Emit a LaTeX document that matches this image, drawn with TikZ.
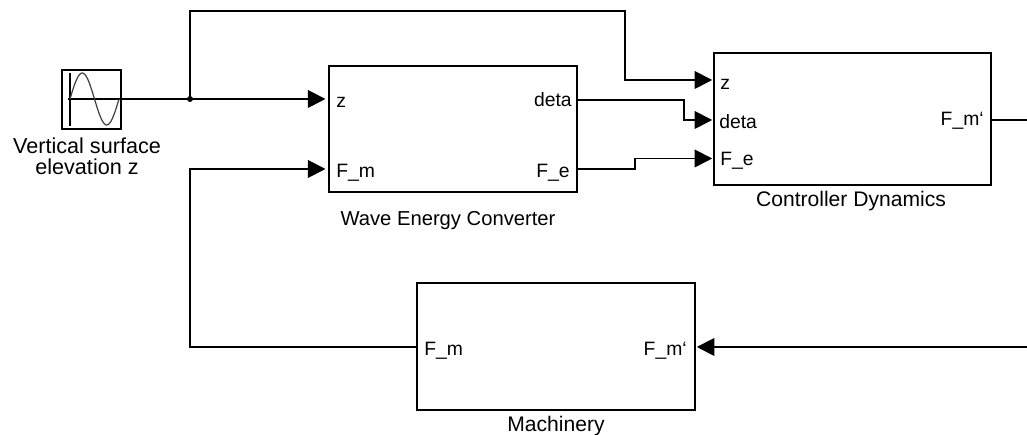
\documentclass[tikz,border=0pt]{standalone}
\usepackage{fontspec}
\setmainfont{Liberation Sans}
\usepackage{xcolor}
\usetikzlibrary{arrows.meta}
\tikzset{
	block/.style={draw, line width=1.1pt, inner sep=0pt, outer sep=0pt},
	signal/.style={line width=1.1pt, -{Triangle[length=10pt,width=10pt]}, shorten >=2pt},
	tosmall/.style={shorten >=1pt},
	wire/.style={line width=1.1pt},
	port/.style={inner sep=0pt, font=\fontsize{11}{12}\selectfont},
	title/.style={inner sep=0pt, align=center, font=\fontsize{12}{12}\selectfont}
}
\begin{document}
\begin{tikzpicture}
	\useasboundingbox (0,0) rectangle (20.54,8.7);
	\node[block, minimum width=1.18cm, minimum height=1.18cm] (source) at (1.83,6.71) {};
	\node[block, minimum width=4.96cm, minimum height=2.52cm] (wec) at (9.06,6.12) {};
	\node[block, minimum width=5.54cm, minimum height=2.64cm] (ctrl) at (17.05,6.32) {};
	\node[block, minimum width=5.56cm, minimum height=2.54cm] (mach) at (11.12,1.77) {};
	% sine icon
	\draw[line width=0.9pt] (1.40,7.24) -- (1.40,6.18);
	\draw[line width=0.6pt] (1.36,6.72) -- (2.42,6.72);
	\draw[line width=0.7pt, smooth, domain=0:360, samples=37, color=black!75] plot ({1.40+\x/360*0.98},{6.72+0.52*sin(\x)});
	% ports
	\coordinate (wecz) at (6.58,6.72);
	\coordinate (wecm) at (6.58,5.32);
	\coordinate (wecd) at (11.54,6.7);
	\coordinate (wece) at (11.54,5.32);
	\coordinate (ctrlz) at (14.28,7.1);
	\coordinate (ctrld) at (14.28,6.3);
	\coordinate (ctrle) at (14.28,5.53);
	\coordinate (ctrlm) at (19.82,6.3);
	\coordinate (machin) at (13.9,1.76);
	\coordinate (machout) at (8.34,1.76);
	\coordinate (srcout) at (2.42,6.72);
	\coordinate (junc) at (3.8,6.72);
	\coordinate (edgea) at (20.54,6.3);
	\coordinate (edgeb) at (20.54,1.76);
	% lines
	\draw[signal] (srcout) -- (wecz);
	\draw[signal, tosmall] (junc) -- (3.8,8.48) -- (12.5,8.48) -- (12.5,7.1) -- (ctrlz);
	\draw[signal, tosmall] (wecd) -- (13.68,6.7) -- (13.68,6.3) -- (ctrld);
	\draw[signal, tosmall] (wece) -- (12.7,5.32) -- (12.7,5.53) -- (ctrle);
	\draw[wire] (ctrlm) -- (edgea);
	\draw[signal, tosmall] (edgeb) -- (machin);
	\draw[signal] (machout) -- (3.8,1.76) -- (3.8,5.32) -- (wecm);
	\fill (junc) circle (0.06);
	% labels
	\node[port, anchor=west] (wecza) at (6.72,6.66) {z};
	\node[port, anchor=west] (wecma) at (6.72,5.25) {F\_m};
	\node[port, anchor=east] (wecda) at (11.44,6.7) {deta};
	\node[port, anchor=east] (wecea) at (11.4,5.25) {F\_e};
	\node[port, anchor=west] (ctrlza) at (14.4,7.02) {z};
	\node[port, anchor=west] (ctrlda) at (14.38,6.26) {deta};
	\node[port, anchor=west] (ctrlea) at (14.4,5.48) {F\_e};
	\node[port, anchor=east] (ctrlma) at (19.68,6.28) {F\_m`};
	\node[port, anchor=west] (machma) at (8.48,1.68) {F\_m};
	\node[port, anchor=east] (machia) at (13.74,1.68) {F\_m`};
	\node[title, font=\fontsize{12.3}{12}\selectfont] (sourcet) at (1.74,5.58) {Vertical surface\\elevation z};
	\node[title, font=\fontsize{11.5}{12}\selectfont] (wect) at (8.96,4.28) {Wave Energy Converter};
	\node[title] (ctrlt) at (17.02,4.68) {Controller Dynamics};
	\node[title] (macht) at (11.12,0.18) {Machinery};
\end{tikzpicture}
\end{document}
